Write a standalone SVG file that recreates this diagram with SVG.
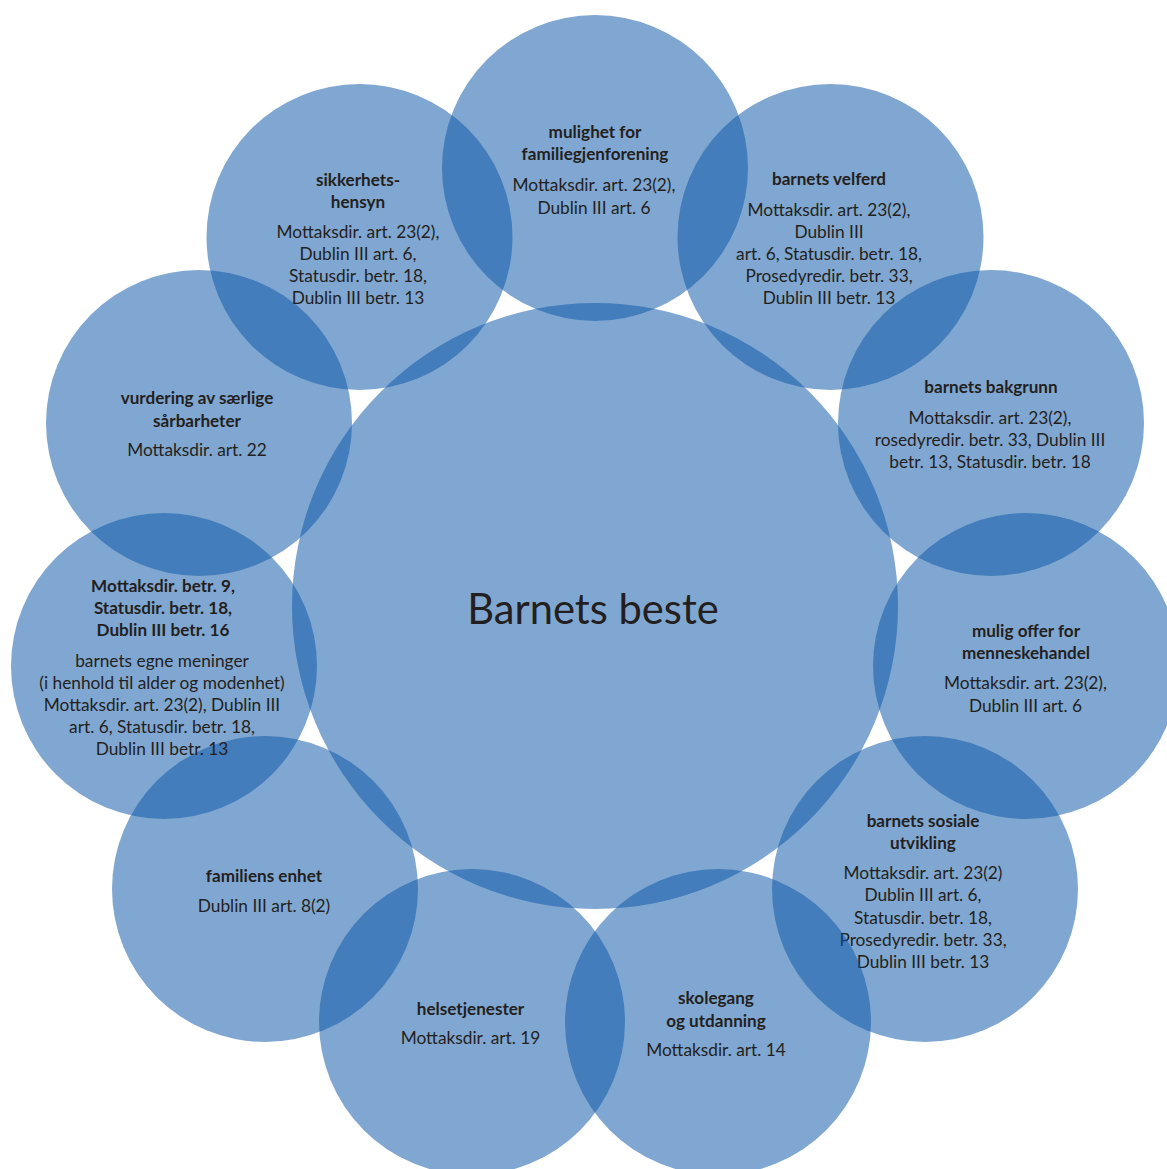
<svg xmlns="http://www.w3.org/2000/svg" width="1167" height="1169" viewBox="0 0 1167 1169">
<style>
.c{fill:#0b56a6;fill-opacity:0.52}
text{font-family:Lato,"Liberation Sans",sans-serif;fill:#231f20;text-anchor:middle}
.t{font-size:17.1px;font-weight:bold}
.b{font-size:17.3px}
.m{font-size:41.7px}
</style>
<rect width="1167" height="1169" fill="#ffffff"/>
<g id="center">
<circle class="c" cx="595" cy="606" r="303"/>
<text class="m" x="593" y="624">Barnets beste</text>
</g>
<g id="n-familiegjenforening">
<circle class="c" cx="595" cy="168" r="153"/>
<text class="t" x="595" y="138">mulighet for</text>
<text class="t" x="595" y="160">familiegjenforening</text>
<text class="b" x="594" y="191">Mottaksdir. art. 23(2),</text>
<text class="b" x="594" y="214">Dublin III art. 6</text>
</g>
<g id="n-velferd">
<circle class="c" cx="830.5" cy="237" r="153"/>
<text class="t" x="829" y="185">barnets velferd</text>
<text class="b" x="829" y="216">Mottaksdir. art. 23(2),</text>
<text class="b" x="829" y="238">Dublin III</text>
<text class="b" x="829" y="260">art. 6, Statusdir. betr. 18,</text>
<text class="b" x="829" y="282">Prosedyredir. betr. 33,</text>
<text class="b" x="829" y="304">Dublin III betr. 13</text>
</g>
<g id="n-bakgrunn">
<circle class="c" cx="991" cy="423" r="153"/>
<text class="t" x="991" y="393">barnets bakgrunn</text>
<text class="b" x="990" y="424">Mottaksdir. art. 23(2),</text>
<text class="b" x="990" y="446">rosedyredir. betr. 33, Dublin III</text>
<text class="b" x="990" y="468">betr. 13, Statusdir. betr. 18</text>
</g>
<g id="n-menneskehandel">
<circle class="c" cx="1026" cy="666" r="153"/>
<text class="t" x="1026" y="637">mulig offer for</text>
<text class="t" x="1026" y="659">menneskehandel</text>
<text class="b" x="1025.5" y="689">Mottaksdir. art. 23(2),</text>
<text class="b" x="1025.5" y="712">Dublin III art. 6</text>
</g>
<g id="n-sosiale">
<circle class="c" cx="925" cy="889" r="153"/>
<text class="t" x="923" y="827">barnets sosiale</text>
<text class="t" x="923" y="849">utvikling</text>
<text class="b" x="923" y="879">Mottaksdir. art. 23(2)</text>
<text class="b" x="923" y="901">Dublin III art. 6,</text>
<text class="b" x="923" y="924">Statusdir. betr. 18,</text>
<text class="b" x="923" y="946">Prosedyredir. betr. 33,</text>
<text class="b" x="923" y="968">Dublin III betr. 13</text>
</g>
<g id="n-skolegang">
<circle class="c" cx="718" cy="1022" r="153"/>
<text class="t" x="716" y="1004">skolegang</text>
<text class="t" x="716" y="1027">og utdanning</text>
<text class="b" x="716" y="1056">Mottaksdir. art. 14</text>
</g>
<g id="n-helsetjenester">
<circle class="c" cx="472" cy="1022" r="153"/>
<text class="t" x="470.5" y="1015">helsetjenester</text>
<text class="b" x="470.5" y="1044">Mottaksdir. art. 19</text>
</g>
<g id="n-familiens-enhet">
<circle class="c" cx="265" cy="889" r="153"/>
<text class="t" x="264" y="882">familiens enhet</text>
<text class="b" x="264" y="912">Dublin III art. 8(2)</text>
</g>
<g id="n-egne-meninger">
<circle class="c" cx="164" cy="666" r="153"/>
<text class="t" x="163" y="592">Mottaksdir. betr. 9,</text>
<text class="t" x="163" y="614">Statusdir. betr. 18,</text>
<text class="t" x="163" y="636">Dublin III betr. 16</text>
<text class="b" x="162" y="667">barnets egne meninger</text>
<text class="b" x="162" y="689">(i henhold til alder og modenhet)</text>
<text class="b" x="162" y="711">Mottaksdir. art. 23(2), Dublin III</text>
<text class="b" x="162" y="733">art. 6, Statusdir. betr. 18,</text>
<text class="b" x="162" y="755">Dublin III betr. 13</text>
</g>
<g id="n-saarbarheter">
<circle class="c" cx="199" cy="423" r="153"/>
<text class="t" x="197" y="404">vurdering av særlige</text>
<text class="t" x="197" y="427">sårbarheter</text>
<text class="b" x="197" y="456">Mottaksdir. art. 22</text>
</g>
<g id="n-sikkerhetshensyn">
<circle class="c" cx="359.5" cy="237" r="153"/>
<text class="t" x="358" y="186">sikkerhets-</text>
<text class="t" x="358" y="208">hensyn</text>
<text class="b" x="358" y="238">Mottaksdir. art. 23(2),</text>
<text class="b" x="358" y="260">Dublin III art. 6,</text>
<text class="b" x="358" y="282">Statusdir. betr. 18,</text>
<text class="b" x="358" y="304">Dublin III betr. 13</text>
</g>
<g id="connectors"/>
</svg>
